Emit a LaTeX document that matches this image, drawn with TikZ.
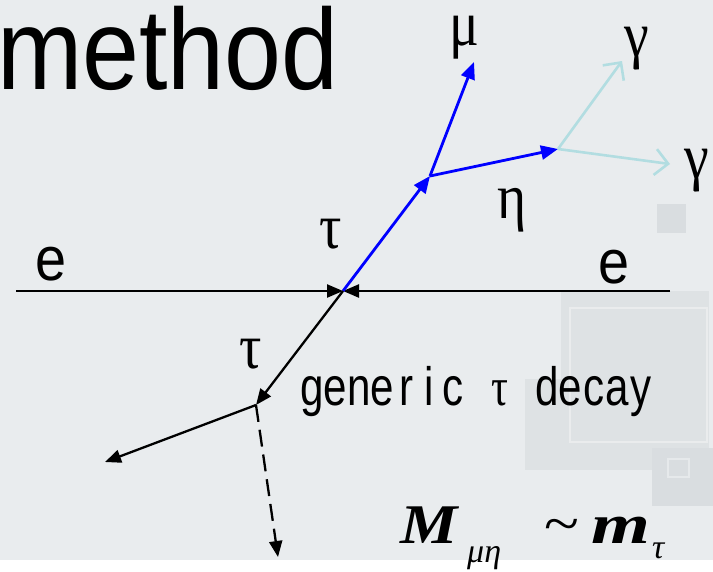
\documentclass[tikz,border=0pt]{standalone}
\usepackage{fontspec}
\usepackage{graphicx}
\setmainfont{Liberation Serif}
\newfontfamily\arialf{Liberation Sans}
\usetikzlibrary{arrows.meta}
\definecolor{bgc}{HTML}{E9ECEE}
\definecolor{decoA}{HTML}{DEE2E4}
\definecolor{decoB}{HTML}{D9DDE0}
\definecolor{gamc}{HTML}{B2DDE1}
\tikzset{
  lbl/.style={inner sep=0pt, anchor=base},
  arrowA/.style={-{Triangle[length=16pt,width=13pt]}},
  blk/.style={line width=2.3pt, black, arrowA},
  blu/.style={line width=2.8pt, blue, -{Triangle[length=17pt,width=14pt]}},
  gam/.style={line width=2.6pt, gamc, -{Straight Barb[length=13pt,width=26pt]}},
}
\newcommand{\grk}[1]{\scalebox{0.87}[1]{\fontsize{64}{64}\selectfont #1}}
\newcommand{\cel}[1]{\makebox[30.1pt][c]{#1}}
\begin{document}
\begin{tikzpicture}[x=1pt,y=-1pt]
\useasboundingbox (0,0) rectangle (713,571);
% background
\fill[bgc] (0,0) rectangle (713,560);
\fill[white] (0,560) rectangle (713,571);
\fill[decoA] (525,379) rectangle (655,470);
\fill[decoA] (561,291) rectangle (709,448);
\draw[white!35!decoA, line width=2pt] (570,308) rectangle (707,442);
\fill[decoB] (657,204) rectangle (686,233);
\fill[decoB] (652,448) rectangle (713,506);
\draw[white!35!decoB, line width=2pt] (668,459) rectangle (689,477);
% title fragment
\node[inner sep=0pt, anchor=base west] (title) at (-3,89)
  {\scalebox{0.89}[1]{\fontsize{115}{115}\arialf method}};
% points
\coordinate (L) at (16,291);
\coordinate (R) at (670,291);
\coordinate (V) at (343,291);
\coordinate (J) at (430,176);
\coordinate (Mu) at (474,62);
\coordinate (Et) at (558,149);
\coordinate (G1) at (622,61);
\coordinate (G2) at (670,164);
\coordinate (T) at (256,405);
\coordinate (D1) at (105,462);
\coordinate (D2) at (278,557);
% connectors
\draw[blk] (L) -- (V);
\draw[blk] (R) -- (V);
\draw[blu] (V) -- (J);
\draw[blu] (J) -- (Mu);
\draw[blu] (J) -- (Et);
\draw[gam] (Et) -- (G1);
\draw[gam] (Et) -- (G2);
\draw[blk] (V) -- (T);
\draw[blk] (T) -- (D1);
\draw[blk, dash pattern=on 17pt off 8pt] (T) -- (D2);
% labels
\node[lbl] (eL) at (51,280) {\scalebox{0.9}[1]{\fontsize{62}{62}\arialf e}};
\node[lbl] (eR) at (614,283) {\scalebox{0.9}[1]{\fontsize{62}{62}\arialf e}};
\node[lbl] (tau1) at (331,248) {\grk{τ}};
\node[lbl] (tau2) at (251,368) {\grk{τ}};
\node[lbl] (mu) at (464,45) {\grk{μ}};
\node[lbl] (eta) at (512,218) {\grk{η}};
\node[lbl] (gam1) at (637,56) {\grk{γ}};
\node[lbl] (gam2) at (697,178) {\grk{γ}};
\node[lbl] (gen) at (476.5,405) {\scalebox{0.78}[1]{\fontsize{54}{54}\arialf
  \cel{g}\cel{e}\cel{n}\cel{e}\cel{r}\cel{i}\cel{c}\cel{ }\cel{\rmfamily τ}\cel{ }\cel{d}\cel{e}\cel{c}\cel{a}\cel{y}}};
% formula
\node[inner sep=0pt, anchor=base west] (M) at (400,543) {\scalebox{1.15}[1]{\fontsize{56}{56}\bfseries\itshape M}};
\node[inner sep=0pt, anchor=base west] (sub1) at (467,562) {\fontsize{34}{34}\itshape μη};
\node[inner sep=0pt] (tl) at (562,531) {\scalebox{1.15}[1]{\fontsize{56}{56}\selectfont \char"007E}};
\node[inner sep=0pt, anchor=base west] (m) at (591,543) {\scalebox{1.35}[1]{\fontsize{56}{56}\bfseries\itshape m}};
\node[inner sep=0pt, anchor=base west] (sub2) at (652,558) {\fontsize{34}{34}\itshape τ};
\end{tikzpicture}
\end{document}
